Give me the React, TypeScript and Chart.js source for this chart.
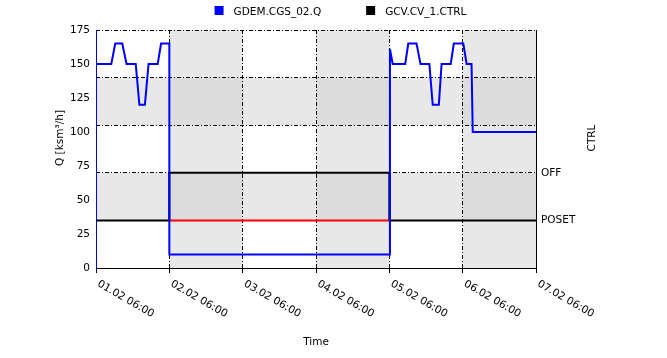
import React, { useEffect, useRef } from 'react';
import { Chart, registerables } from 'chart.js';

Chart.register(...registerables);

// ---------- data ----------
const tickLabels = ['01.02 06:00', '02.02 06:00', '03.02 06:00', '04.02 06:00', '05.02 06:00', '06.02 06:00', '07.02 06:00'];
const hoursPerTick = 24;
const timeMax = 144;

const qName = 'GDEM.CGS_02.Q';
const qHours = [0, 5, 6.3, 8.6, 10, 13, 14.2, 16, 17.2, 20.2, 21.3, 24, 24, 96, 96.2, 97.1, 101.2, 102.2, 104.9, 106.2, 109.1, 110.2, 112.2, 113.1, 116.1, 117.1, 120.2, 121.3, 122.9, 123.3, 144];
const qValues = [150, 150, 165, 165, 150, 150, 120, 120, 150, 150, 165, 165, 10, 10, 161, 150, 150, 165, 165, 150, 150, 120, 120, 150, 150, 165, 165, 150, 150, 100, 100];
const qMax = 175;
const qStep = 25;

const ctrlName = 'GCV.CV_1.CTRL';
const ctrlHours = [0, 24, 24, 96, 96, 144];
const ctrlValues = [35, 35, 70, 70, 35, 35];
const ctrlActiveHours = [24, 96];
const ctrlActiveValues = [35, 35];
const ctrlLevels = [0, 35, 70, 105, 140, 175];
const ctrlLevelLabels = ['', 'POSET', 'OFF', '', '', ''];

const shadedColStart = [24, 72, 120];
const shadedColEnd = [48, 96, 144];
const shadedRowStart = [35, 105];
const shadedRowEnd = [70, 140];

const legendNames = [qName, ctrlName];

// ---------- styles ----------
const FONT = '"DejaVu Sans", sans-serif';
const FS = 10.5;
const DASH = [4, 2, 1, 2];
const LIGHT = '#e8e8e8';
const DARK = '#dcdcdc';

const decor = {
  id: 'decor',
  beforeDraw(chart: any) {
    const { ctx, chartArea: a, scales } = chart;
    const x = scales.x;
    const y1 = scales.y1;
    ctx.save();
    ctx.fillStyle = LIGHT;
    shadedColStart.forEach((s, i) => {
      const l = x.getPixelForValue(s);
      const r = x.getPixelForValue(shadedColEnd[i]);
      ctx.fillRect(l, a.top, r - l, a.bottom - a.top);
    });
    shadedRowStart.forEach((s, j) => {
      const t = y1.getPixelForValue(shadedRowEnd[j]);
      const b = y1.getPixelForValue(s);
      ctx.fillRect(a.left, t, a.right - a.left, b - t);
    });
    ctx.fillStyle = DARK;
    shadedColStart.forEach((s, i) => {
      const l = x.getPixelForValue(s);
      const r = x.getPixelForValue(shadedColEnd[i]);
      shadedRowStart.forEach((rs, j) => {
        const t = y1.getPixelForValue(shadedRowEnd[j]);
        const b = y1.getPixelForValue(rs);
        ctx.fillRect(l, t, r - l, b - t);
      });
    });
    ctx.restore();
  },
  afterDraw(chart: any) {
    const { ctx, chartArea: a, scales } = chart;
    const x = scales.x;
    ctx.save();
    ctx.fillStyle = '#000';
    ctx.font = `${FS}px ${FONT}`;
    // rotated x tick labels
    const ang = (30 * Math.PI) / 180;
    x.ticks.forEach((t: any, i: number) => {
      const px = x.getPixelForValue(t.value);
      ctx.save();
      ctx.translate(px + 0.7, a.bottom + 17.6);
      ctx.rotate(ang);
      ctx.textAlign = 'left';
      ctx.textBaseline = 'alphabetic';
      ctx.fillText(tickLabels[i] ?? '', 0, 0);
      ctx.restore();
    });
    // axis titles
    const cy = (a.top + a.bottom) / 2 - 11;
    const drawV = (text: string, cx: number) => {
      ctx.save();
      ctx.translate(cx, cy);
      ctx.rotate(-Math.PI / 2);
      ctx.textAlign = 'center';
      ctx.textBaseline = 'middle';
      ctx.fillText(text, 0, 0);
      ctx.restore();
    };
    drawV('Q [ksm³/h]', a.left - 36);
    drawV('CTRL', a.right + 56);
    // legend
    const items = legendNames.map((n) => {
      const ds = chart.data.datasets.find((d: any) => d.label === n);
      return { text: n, color: ds ? ds.borderColor : '#000', w: ctx.measureText(n).width };
    });
    const gapBox = 19;
    const gapItem = 45;
    const total = items.reduce((s, it) => s + gapBox + it.w, 0) + gapItem * (items.length - 1);
    let cx = chart.width / 2 - total / 2 + 7;
    ctx.textAlign = 'left';
    ctx.textBaseline = 'alphabetic';
    items.forEach((it) => {
      ctx.fillStyle = it.color;
      ctx.fillRect(cx, 6, 9, 9);
      ctx.fillStyle = '#000';
      ctx.fillText(it.text, cx + gapBox, 15);
      cx += gapBox + it.w + gapItem;
    });
    ctx.restore();
  },
};

export default function App() {
  const ref = useRef<HTMLCanvasElement>(null);
  useEffect(() => {
    const chart = new Chart(ref.current as HTMLCanvasElement, {
      type: 'line',
      data: {
        datasets: [
          {
            label: qName,
            data: qHours.map((h, i) => ({ x: h, y: qValues[i] })),
            borderColor: '#0000ff',
            backgroundColor: '#0000ff',
            borderWidth: 2,
            pointRadius: 0,
            tension: 0,
            yAxisID: 'y',
          },
          {
            label: 'CTRL active',
            data: ctrlActiveHours.map((h, i) => ({ x: h, y: ctrlActiveValues[i] })),
            borderColor: '#ff0000',
            backgroundColor: '#ff0000',
            borderWidth: 2,
            pointRadius: 0,
            tension: 0,
            yAxisID: 'y1',
          },
          {
            label: ctrlName,
            data: ctrlHours.map((h, i) => ({ x: h, y: ctrlValues[i] })),
            borderColor: '#000000',
            backgroundColor: '#000000',
            borderWidth: 2,
            pointRadius: 0,
            tension: 0,
            yAxisID: 'y1',
          },
        ],
      },
      options: {
        animation: false,
        responsive: false,
        events: [],
        layout: { padding: { top: 30, left: 0, right: 0, bottom: 0 } },
        plugins: {
          legend: { display: false },
          title: { display: false },
          tooltip: { enabled: false },
        },
        scales: {
          x: {
            type: 'linear',
            min: 0,
            max: timeMax,
            ticks: { stepSize: hoursPerTick, display: false },
            grid: {
              color: (c: any) => (c.index === 0 ? 'rgba(0,0,0,0)' : '#000'),
              lineWidth: 1,
              drawTicks: true,
              tickLength: 5,
              tickColor: '#000',
            },
            border: { color: '#000', width: 1, dash: DASH },
            title: {
              display: true,
              text: 'Time',
              color: '#000',
              font: { family: FONT, size: FS },
              padding: { top: 0, bottom: 9 },
            },
            afterFit: (s: any) => {
              s.height = 90;
            },
          },
          y: {
            type: 'linear',
            position: 'left',
            min: 0,
            max: qMax,
            ticks: { stepSize: qStep, color: '#000', font: { family: FONT, size: FS }, padding: 6 },
            grid: { display: false, drawTicks: false, drawOnChartArea: false },
            border: { color: '#0000ff', width: 1 },
            afterFit: (s: any) => {
              s.width = 96;
            },
          },
          y1: {
            type: 'linear',
            position: 'right',
            min: ctrlLevels[0],
            max: ctrlLevels[ctrlLevels.length - 1],
            afterBuildTicks: (s: any) => {
              s.ticks = ctrlLevels.map((v) => ({ value: v }));
            },
            ticks: {
              color: '#000',
              font: { family: FONT, size: FS },
              padding: 5,
              autoSkip: false,
              callback: (v: any) => {
                const i = ctrlLevels.indexOf(Number(v));
                return i >= 0 ? ctrlLevelLabels[i] : '';
              },
            },
            grid: { color: '#000', lineWidth: 1, drawTicks: false, drawOnChartArea: true },
            border: { color: '#000', width: 1, dash: DASH },
            afterFit: (s: any) => {
              s.width = 131;
            },
          },
        },
      } as any,
      plugins: [decor],
    });
    return () => chart.destroy();
  }, []);
  return (
    <div style={{ position: 'fixed', left: 0, top: 0, width: 667, height: 358, background: '#fff' }}>
      <canvas ref={ref} width={667} height={358} style={{ display: 'block', width: 667, height: 358 }} />
    </div>
  );
}
